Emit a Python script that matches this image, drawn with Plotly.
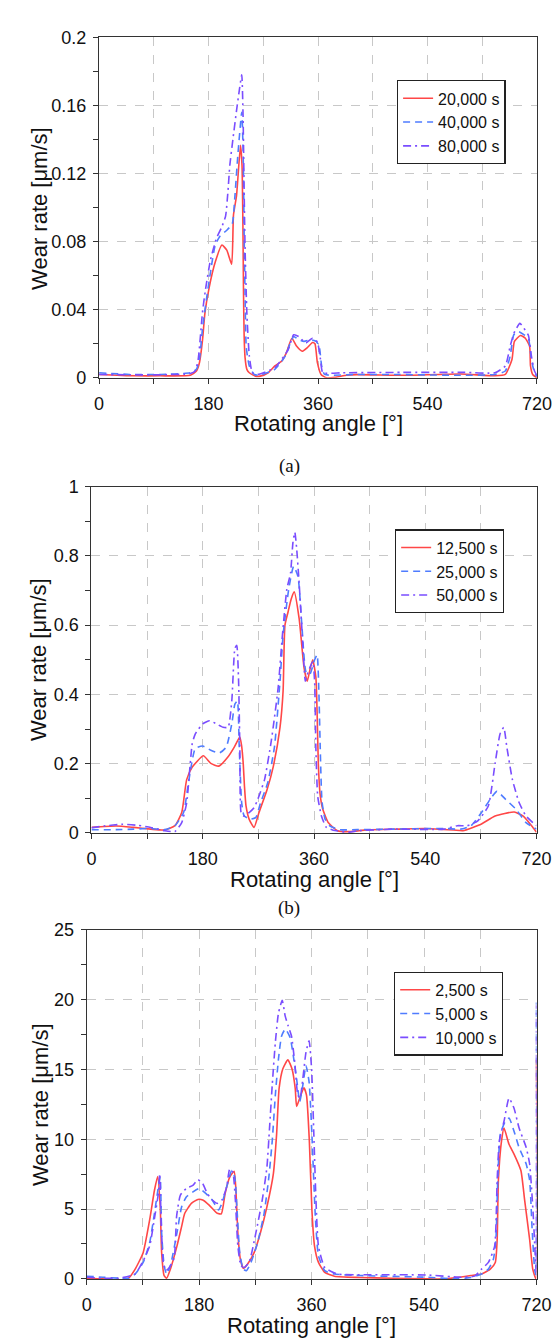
import plotly.graph_objects as go

W, H = 560, 1340

# ---------------- Panel (a) ----------------
a_names = ["20,000 s", "40,000 s", "80,000 s"]
a_x_red = [0, 30, 60, 100, 150, 160, 165, 170, 174, 181, 191, 202, 210, 218, 221, 226, 232.5, 235, 236.5, 237.5, 238.5, 240, 243, 247, 257, 265, 278, 289, 300, 308, 317, 325, 334, 342, 351, 355, 359, 365, 374, 388, 407, 424, 500, 594, 651, 668, 679, 683, 693, 701, 708, 709.5, 713, 720]
a_y_red = [0.002, 0.0015, 0.0012, 0.0012, 0.0015, 0.004, 0.0089, 0.022, 0.038, 0.053, 0.068, 0.078, 0.075, 0.0667, 0.0957, 0.107, 0.1366, 0.125, 0.09, 0.05, 0.025, 0.012, 0.005, 0.003, 0.001, 0.001, 0.003, 0.007, 0.0098, 0.0147, 0.0233, 0.0185, 0.0156, 0.0176, 0.0208, 0.020, 0.0089, 0.002, 0.0, 0.0003, 0.0015, 0.0019, 0.0015, 0.0023, 0.0012, 0.002, 0.0108, 0.0214, 0.0249, 0.0233, 0.0185, 0.007, 0.002, 0.0]
a_x_blue = [0, 50, 100, 150, 160, 165, 170, 175, 183, 191, 199, 210, 219, 223, 228, 234.6, 237, 238.5, 240, 242, 247, 255, 263, 289, 306, 314, 320, 328, 337, 348, 357, 362, 366, 371, 424, 481, 594, 651, 668, 676, 682, 690, 699, 706, 711, 716, 720]
a_y_blue = [0.003, 0.002, 0.002, 0.003, 0.005, 0.011, 0.0288, 0.0424, 0.0617, 0.078, 0.0834, 0.0867, 0.0905, 0.105, 0.13, 0.156, 0.13, 0.085, 0.05, 0.018, 0.007, 0.002, 0.0015, 0.005, 0.0127, 0.020, 0.0243, 0.0224, 0.0214, 0.0224, 0.0214, 0.0185, 0.007, 0.002, 0.002, 0.002, 0.0015, 0.002, 0.004, 0.0127, 0.0253, 0.0272, 0.0253, 0.0233, 0.0108, 0.003, 0.0008]
a_x_pur = [0, 50, 100, 150, 158, 163, 170, 175, 183, 193, 201, 208, 212, 215, 220, 226, 231, 234.6, 236.8, 238.5, 240, 243, 247, 252, 260, 289, 311, 320, 328, 340, 351, 359, 364, 368, 400, 500, 600, 651, 668, 676, 682, 692, 699, 706, 711, 716, 720]
a_y_pur = [0.002, 0.0018, 0.0018, 0.0025, 0.004, 0.011, 0.0385, 0.052, 0.069, 0.082, 0.088, 0.095, 0.11, 0.125, 0.14, 0.157, 0.170, 0.178, 0.153, 0.11, 0.0768, 0.038, 0.013, 0.003, 0.002, 0.006, 0.0166, 0.0253, 0.0243, 0.0205, 0.0233, 0.021, 0.011, 0.003, 0.003, 0.0032, 0.0032, 0.003, 0.007, 0.0185, 0.026, 0.032, 0.029, 0.025, 0.0127, 0.004, 0.0015]

# ---------------- Panel (b) ----------------
b_names = ["12,500 s", "25,000 s", "50,000 s"]
b_x_red = [0, 40, 68, 96, 118, 135, 146, 154, 163, 181, 193, 206, 221, 231, 240, 243, 245.5, 247.5, 250, 255, 263, 271, 284, 294, 305, 310, 313, 318, 323, 328, 336, 344, 349, 354, 358, 363, 365, 367, 370, 374, 383, 398, 419, 445, 497, 540, 586, 601, 631, 653, 684, 698, 712, 720]
b_y_red = [0.016, 0.02, 0.016, 0.011, 0.0085, 0.021, 0.059, 0.154, 0.19, 0.2227, 0.201, 0.193, 0.22, 0.248, 0.277, 0.25, 0.2, 0.135, 0.078, 0.04, 0.016, 0.059, 0.125, 0.191, 0.305, 0.41, 0.60, 0.638, 0.675, 0.696, 0.618, 0.476, 0.438, 0.476, 0.50, 0.45, 0.35, 0.2, 0.11, 0.07, 0.03, 0.0065, 0.004, 0.009, 0.011, 0.013, 0.0085, 0.0065, 0.026, 0.049, 0.0606, 0.049, 0.021, 0.002]
b_x_blue = [0, 40, 68, 96, 118, 135, 149, 156, 163, 168, 180, 193, 207, 218, 227, 232, 236, 239, 243, 247, 258, 266, 273.5, 285, 296, 305, 310, 319, 327, 334, 340, 347, 353, 361, 365, 368, 370, 373, 378, 386, 402, 430, 486, 570, 597, 614, 631, 645, 656, 670, 687, 703, 720]
b_y_blue = [0.0095, 0.0095, 0.011, 0.013, 0.0095, 0.021, 0.059, 0.135, 0.21, 0.244, 0.251, 0.239, 0.231, 0.248, 0.315, 0.372, 0.381, 0.25, 0.087, 0.049, 0.04, 0.045, 0.087, 0.144, 0.248, 0.438, 0.571, 0.703, 0.77, 0.741, 0.609, 0.466, 0.457, 0.5, 0.514, 0.4, 0.25, 0.09, 0.04, 0.02, 0.0095, 0.0095, 0.011, 0.013, 0.011, 0.021, 0.059, 0.097, 0.12, 0.097, 0.068, 0.03, 0.011]
b_x_pur = [0, 20, 50, 75, 96, 118, 135, 146, 154, 163, 168, 180, 191, 202, 213, 221, 227, 232, 235, 238, 240, 242, 246, 255, 263, 269, 280, 291, 302, 308, 316, 322, 326, 329, 332, 336, 341, 346, 349, 353, 358, 361, 363, 366, 372, 380, 391, 416, 430, 486, 570, 592, 608, 625, 642, 653, 661, 667, 672, 681, 692, 703, 714, 720]
b_y_pur = [0.015, 0.02, 0.025, 0.022, 0.016, 0.0066, 0.004, 0.03, 0.087, 0.258, 0.286, 0.315, 0.324, 0.315, 0.305, 0.305, 0.381, 0.533, 0.542, 0.438, 0.248, 0.059, 0.049, 0.059, 0.073, 0.097, 0.154, 0.267, 0.419, 0.552, 0.703, 0.75, 0.84, 0.868, 0.82, 0.72, 0.571, 0.438, 0.457, 0.476, 0.495, 0.438, 0.248, 0.106, 0.049, 0.016, 0.008, 0.002, 0.006, 0.011, 0.011, 0.021, 0.021, 0.035, 0.078, 0.201, 0.286, 0.305, 0.248, 0.154, 0.087, 0.049, 0.03, 0.021]

# ---------------- Panel (c) ----------------
c_names = ["2,500 s", "5,000 s", "10,000 s"]
c_x_red = [0, 26, 52, 67, 77.6, 90.4, 100.8, 108.5, 113.6, 117.7, 120, 124, 128, 134, 144.5, 152, 157, 167.6, 178, 185.7, 196, 209, 215.5, 221.6, 229, 236, 238.6, 242, 246, 251, 257.6, 268, 278, 288.5, 298.8, 304, 308, 314, 322, 328.6, 333.8, 336, 341, 347.7, 351.8, 356.4, 360.5, 364.7, 371, 381, 396.5, 437, 488, 544, 571, 593, 615, 632, 646, 654, 657, 659, 664, 668, 676, 684, 695, 701, 709, 714, 719, 720]
c_y_red = [0.05, 0, -0.1, 0.05, 0.7, 1.88, 4.23, 6.35, 7.34, 5.17, 1.88, 0.23, 0.05, 0.7, 2.35, 3.76, 4.7, 5.41, 5.69, 5.65, 5.29, 4.7, 4.66, 6.12, 7.29, 7.71, 6.58, 3.29, 1.41, 0.75, 1.06, 1.88, 3.29, 5.17, 7.53, 10.35, 13.64, 15.05, 15.69, 15.05, 13.64, 12.35, 12.94, 13.69, 13.17, 9.88, 4.94, 2.35, 1.18, 0.47, 0.19, 0.1, 0.05, 0, 0, 0.1, 0.24, 0.35, 0.7, 1.18, 2.8, 7.06, 9.88, 10.8, 9.64, 8.94, 7.76, 5.64, 2.82, 0.7, 0, 15.7]
c_x_blue = [0, 26, 52, 67, 77.6, 90.4, 100.8, 108.5, 114.7, 117.7, 120, 124, 128, 134, 144.5, 152, 159.7, 170, 180, 190.6, 201, 211, 216.5, 224, 232, 237, 241, 245, 250.5, 255.6, 263, 273.5, 284, 291.6, 297, 302, 307, 312, 318, 325.6, 330.7, 336, 341, 346, 351, 356, 360.5, 366, 371, 381, 396.5, 437, 544, 593, 615, 632, 643, 651, 655, 658, 662, 670, 676, 684, 692, 703.5, 709, 713, 717, 719, 720]
c_y_blue = [0.19, 0.12, 0.05, 0.05, 0.35, 1.18, 2.59, 4.7, 6.58, 7.29, 3.29, 0.94, 0.35, 0.94, 3.29, 5.17, 5.88, 6.23, 6.47, 6.12, 5.65, 4.94, 5.41, 6.58, 7.76, 7.29, 4.7, 1.88, 0.7, 0.59, 1.18, 2.59, 4.7, 7.29, 9.88, 13.17, 15.76, 17.4, 17.9, 17.29, 16.0, 14.35, 12.7, 13.88, 15.29, 14.11, 10.35, 4.47, 1.65, 0.59, 0.35, 0.24, 0.12, 0, 0.1, 0.35, 0.7, 1.41, 2.82, 7.06, 10.35, 11.29, 11.52, 10.58, 9.41, 8.23, 7.06, 3.53, 0.7, 0.3, 19.8]
c_x_pur = [0, 26, 52, 77.6, 90.4, 100.8, 109, 114.7, 117, 119, 122.6, 127, 132, 140, 144, 150, 160, 170, 178, 185.7, 193, 201, 209, 216.5, 224, 229, 234, 238, 242, 247, 252, 260, 270.8, 281, 288.5, 292.7, 297, 302, 307, 313, 317.8, 322.6, 327.8, 333, 338, 341.6, 346, 351, 356, 360, 363.6, 367, 371, 381, 401, 437, 544, 599, 621, 632, 643, 653, 657, 660.5, 668, 676, 684, 692, 703.5, 709, 714.6, 718.5, 719.5, 720]
c_y_pur = [0.12, 0.05, 0.05, 0.35, 1.29, 2.35, 4.47, 6.12, 7.53, 4.47, 1.18, 0.59, 0.8, 1.5, 4.5, 6.0, 6.5, 6.7, 7.1, 6.82, 6.12, 5.65, 5.41, 5.65, 6.58, 7.88, 7.64, 5.65, 2.35, 0.94, 0.82, 1.18, 3.29, 5.65, 8.0, 10.82, 13.88, 16.94, 19.05, 19.95, 18.82, 18.11, 17.4, 15.52, 13.17, 12.94, 14.35, 16.23, 17.05, 15.05, 10.35, 5.65, 2.35, 0.82, 0.35, 0.3, 0.28, 0.12, 0.2, 0.7, 1.18, 2.35, 7.06, 9.88, 11.29, 12.94, 12.23, 10.82, 9.41, 8.23, 4.7, 1.18, 0.5, 19.6]

x_tickvals = [0, 180, 360, 540, 720]
panel_labels = ["(a)", "(b)"]

RED, BLUE, PUR = "#ff4747", "#4f7cff", "#7a4dff"
SANS = "Liberation Sans, Arial, sans-serif"
styles = [dict(color=RED, width=1.6, dash="solid", shape="spline", smoothing=0.5),
          dict(color=BLUE, width=1.6, dash="7px,5px", shape="spline", smoothing=0.5),
          dict(color=PUR, width=1.6, dash="8px,4px,2px,4px", shape="spline", smoothing=0.5)]

panels = [
    dict(xs=[a_x_red, a_x_blue, a_x_pur], ys=[a_y_red, a_y_blue, a_y_pur], names=a_names,
         xl=89.3, xr=543.3, yt=19.7, yb=365.3, yr=[0, 0.2], dt=0.04, mdt=0.02,
         leg=(398, 63), xtit=412, ytit=(26.8, 193)),
    dict(xs=[b_x_red, b_x_blue, b_x_pur], ys=[b_y_red, b_y_blue, b_y_pur], names=b_names,
         xl=81.4, xr=542.9, yt=475.7, yb=827.3, yr=[0, 1], dt=0.2, mdt=0.1,
         leg=(396, 519), xtit=875, ytit=(27, 651.7)),
    dict(xs=[c_x_red, c_x_blue, c_x_pur], ys=[c_y_red, c_y_blue, c_y_pur], names=c_names,
         xl=76.4, xr=542.9, yt=925.7, yb=1280, yr=[0, 25], dt=5, mdt=2.5,
         leg=(395, 968), xtit=1327, ytit=(28.6, 1103)),
]

fig = go.Figure()
annotations = []
layout = dict(width=W, height=H, autosize=False, margin=dict(l=0, r=0, t=0, b=0),
              paper_bgcolor="white", plot_bgcolor="white", font=dict(family=SANS, color="#111"))

for i, p in enumerate(panels):
    sfx = "" if i == 0 else str(i + 1)
    legname = "legend" + sfx
    for k in range(3):
        fig.add_trace(go.Scatter(x=p["xs"][k], y=p["ys"][k], mode="lines", name=p["names"][k],
                                 line=styles[k], xaxis="x" + sfx, yaxis="y" + sfx,
                                 legend=legname))
    axcommon = dict(showline=True, mirror=True, linecolor="#333", linewidth=1.3,
                    ticks="outside", ticklen=5, tickwidth=1.2, tickcolor="#333",
                    zeroline=False, gridcolor="#c8c8c8", griddash="dash", gridwidth=1,
                    tickfont=dict(family=SANS, size=18, color="#111"))
    layout["xaxis" + sfx] = dict(axcommon, domain=[p["xl"] / W, p["xr"] / W], range=[0, 720],
                                 tickvals=x_tickvals, showgrid=True, anchor="y" + sfx,
                                 ticklabelstandoff=4,
                                 minor=dict(dtick=90, tick0=0, ticks="outside", ticklen=5,
                                            tickcolor="#333", showgrid=True, gridcolor="#c8c8c8",
                                            griddash="dash", gridwidth=1))
    layout["yaxis" + sfx] = dict(axcommon, domain=[1 - p["yb"] / H, 1 - p["yt"] / H], range=p["yr"],
                                 dtick=p["dt"], tick0=0, showgrid=True, anchor="x" + sfx,
                                 ticklabelstandoff=3,
                                 minor=dict(dtick=p["mdt"], ticks="outside", ticklen=5,
                                            tickcolor="#333", showgrid=False))
    layout[legname] = dict(x=p["leg"][0] / W, y=1 - p["leg"][1] / H, xanchor="left", yanchor="top",
                           bgcolor="white", bordercolor="#222", borderwidth=1.3,
                           font=dict(family=SANS, size=16, color="#111"), tracegroupgap=0)
    cx = (p["xl"] + p["xr"]) / 2
    annotations.append(dict(text="Rotating angle [°]", x=cx / W, y=1 - p["xtit"] / H, xref="paper",
                            yref="paper", xanchor="center", yanchor="middle", showarrow=False,
                            font=dict(family=SANS, size=22, color="#111")))
    annotations.append(dict(text="Wear rate [μm/s]", x=p["ytit"][0] / W, y=1 - p["ytit"][1] / H,
                            xref="paper", yref="paper", xanchor="center", yanchor="middle",
                            textangle=-90, showarrow=False,
                            font=dict(family=SANS, size=22, color="#111")))

for lbl, py in zip(panel_labels, [455, 903]):
    annotations.append(dict(text=lbl, x=286.5 / W, y=1 - py / H, xref="paper", yref="paper",
                            xanchor="center", yanchor="middle", showarrow=False,
                            font=dict(family="Liberation Serif, serif", size=19, color="#111")))

layout["annotations"] = annotations
fig.update_layout(**layout)
fig.write_html("out.html")
